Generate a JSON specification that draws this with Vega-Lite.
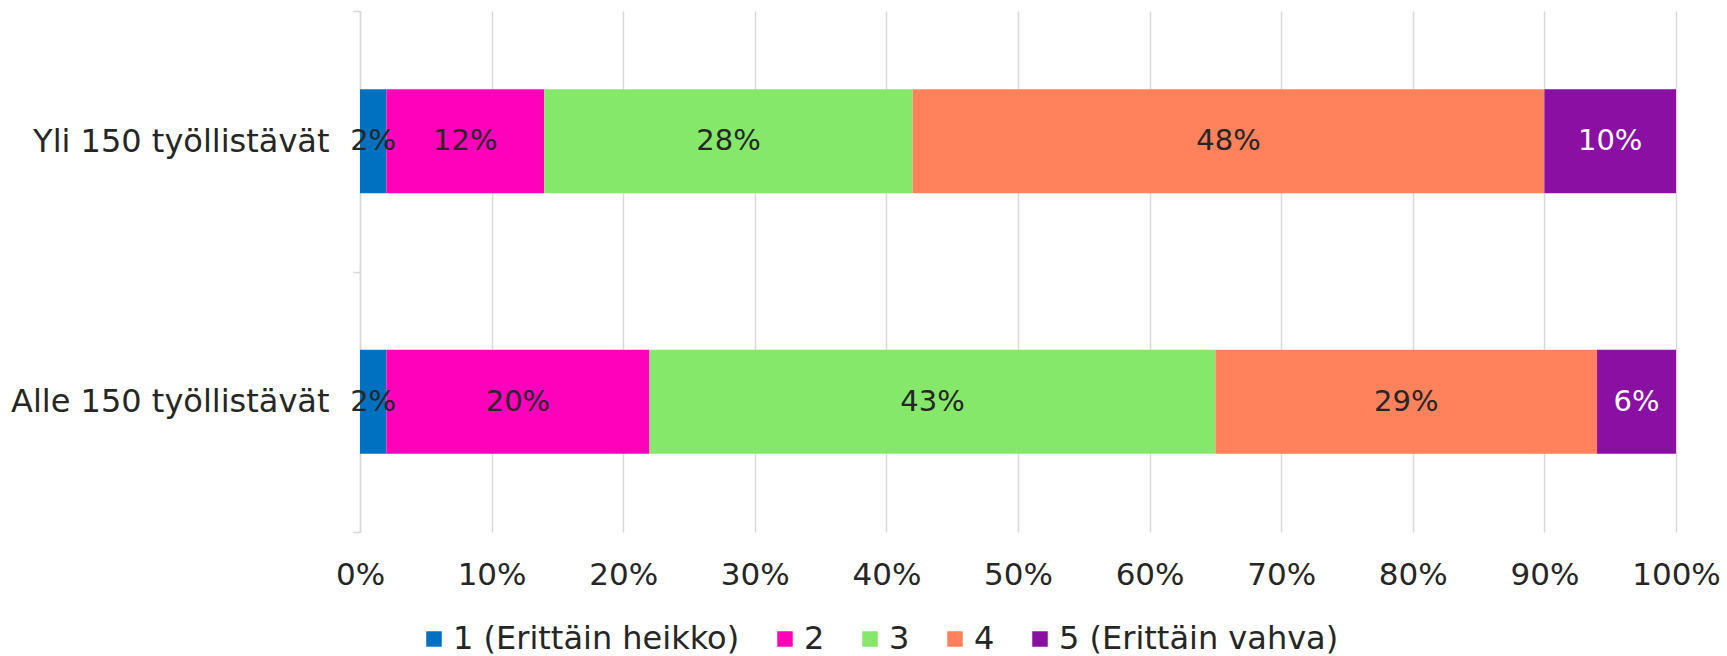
{
  "$schema": "https://vega.github.io/schema/vega-lite/v6.json",
  "width": 1316,
  "height": 521,
  "autosize": {"type": "none"},
  "padding": {"left": 360, "top": 11, "right": 51, "bottom": 124},
  "background": "white",
  "config": {
    "view": {"stroke": null},
    "font": "DejaVu Sans",
    "axis": {"labelFont": "DejaVu Sans", "labelColor": "#262626"},
    "legend": {"labelFont": "DejaVu Sans", "labelColor": "#262626"}
  },
  "data": {
    "values": [
      {"ryhma": "Yli 150 työllistävät", "luokka": "1 (Erittäin heikko)", "k": 1, "osuus": 0.02},
      {"ryhma": "Yli 150 työllistävät", "luokka": "2", "k": 2, "osuus": 0.12},
      {"ryhma": "Yli 150 työllistävät", "luokka": "3", "k": 3, "osuus": 0.28},
      {"ryhma": "Yli 150 työllistävät", "luokka": "4", "k": 4, "osuus": 0.48},
      {"ryhma": "Yli 150 työllistävät", "luokka": "5 (Erittäin vahva)", "k": 5, "osuus": 0.10},
      {"ryhma": "Alle 150 työllistävät", "luokka": "1 (Erittäin heikko)", "k": 1, "osuus": 0.02},
      {"ryhma": "Alle 150 työllistävät", "luokka": "2", "k": 2, "osuus": 0.20},
      {"ryhma": "Alle 150 työllistävät", "luokka": "3", "k": 3, "osuus": 0.43},
      {"ryhma": "Alle 150 työllistävät", "luokka": "4", "k": 4, "osuus": 0.29},
      {"ryhma": "Alle 150 työllistävät", "luokka": "5 (Erittäin vahva)", "k": 5, "osuus": 0.06}
    ]
  },
  "transform": [
    {"stack": "osuus", "groupby": ["ryhma"], "sort": [{"field": "k", "order": "ascending"}], "as": ["x0", "x1"]},
    {"calculate": "(datum.x0 + datum.x1) / 2", "as": "xm"}
  ],
  "encoding": {
    "y": {
      "field": "ryhma",
      "type": "nominal",
      "sort": ["Yli 150 työllistävät", "Alle 150 työllistävät"],
      "scale": {"paddingInner": 0, "paddingOuter": 0},
      "axis": {
        "title": null,
        "tickBand": "extent",
        "domain": true,
        "domainColor": "#d9d9d9",
        "domainWidth": 1.5,
        "ticks": true,
        "tickColor": "#d9d9d9",
        "tickWidth": 1.5,
        "tickSize": 7,
        "grid": false,
        "labelFontSize": 32,
        "labelPadding": 24,
        "labelLimit": 500
      }
    }
  },
  "layer": [
    {
      "mark": {"type": "bar", "height": {"band": 0.4}},
      "encoding": {
        "x": {
          "field": "x0",
          "type": "quantitative",
          "scale": {"domain": [0, 1], "nice": false},
          "axis": {
            "title": null,
            "format": ".0%",
            "values": [0, 0.1, 0.2, 0.3, 0.4, 0.5, 0.6, 0.7, 0.8, 0.9, 1],
            "grid": true,
            "gridColor": "#d9d9d9",
            "gridWidth": 1.5,
            "domain": false,
            "ticks": false,
            "labelFontSize": 31,
            "labelPadding": 28,
            "labelFlush": false
          }
        },
        "x2": {"field": "x1"},
        "color": {
          "field": "luokka",
          "type": "nominal",
          "scale": {
            "domain": ["1 (Erittäin heikko)", "2", "3", "4", "5 (Erittäin vahva)"],
            "range": ["#0070C0", "#FF00BB", "#86E86A", "#FF825C", "#8A0FA3"]
          },
          "legend": {
            "title": null,
            "orient": "none",
            "legendX": 58,
            "legendY": 612,
            "direction": "horizontal",
            "columns": 5,
            "symbolType": "square",
            "symbolSize": 240,
            "symbolStrokeWidth": 0,
            "labelFontSize": 32,
            "labelOffset": 3,
            "columnPadding": 29,
            "labelLimit": 500
          }
        }
      }
    },
    {
      "mark": {"type": "text", "fontSize": 29, "baseline": "middle", "align": "center"},
      "encoding": {
        "x": {"field": "xm", "type": "quantitative"},
        "text": {"field": "osuus", "type": "quantitative", "format": ".0%"},
        "color": {
          "condition": {"test": "datum.k === 5", "value": "white"},
          "value": "#262626"
        }
      }
    }
  ]
}
